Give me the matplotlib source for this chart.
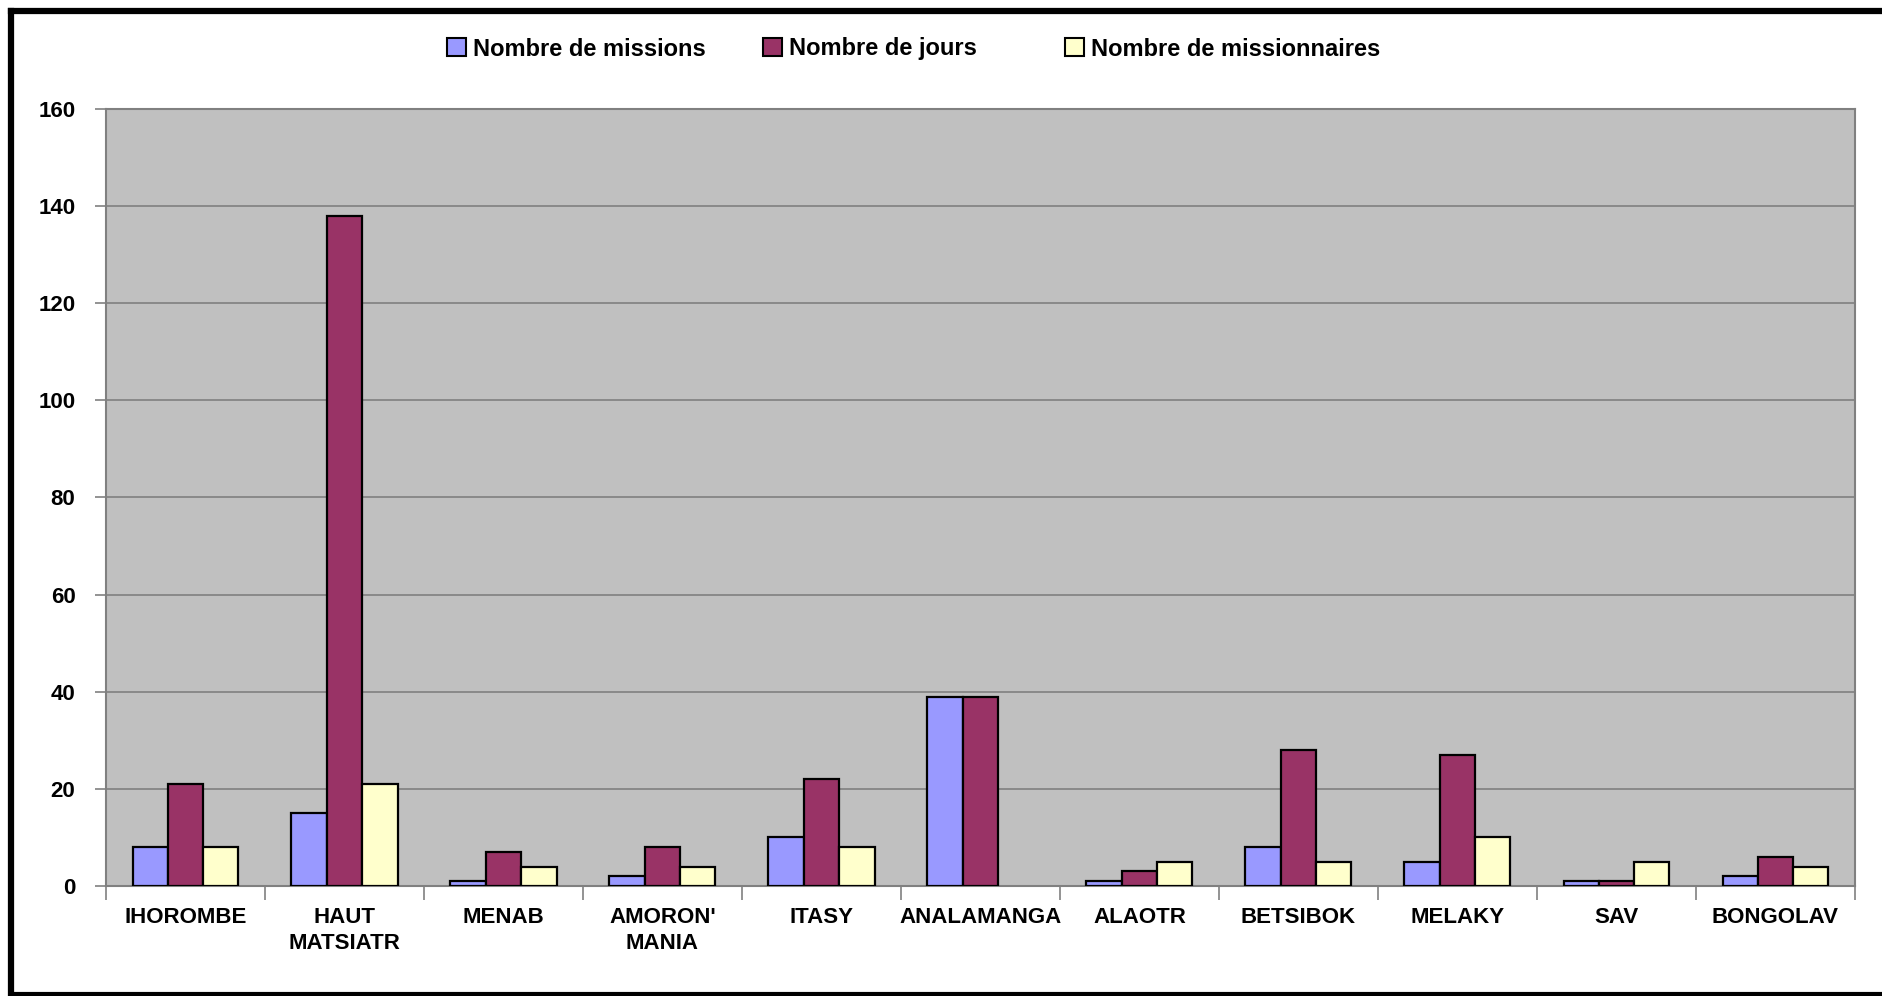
import matplotlib
matplotlib.use("Agg")
import matplotlib.pyplot as plt
import numpy as np
from matplotlib.patches import Patch
from matplotlib.lines import Line2D

plt.rcParams['font.family'] = ['Liberation Sans', 'DejaVu Sans']
plt.rcParams['font.weight'] = 'bold'

categories = ["IHOROMBE", "HAUT\nMATSIATR", "MENAB", "AMORON'\nMANIA", "ITASY",
              "ANALAMANGA", "ALAOTR", "BETSIBOK", "MELAKY", "SAV", "BONGOLAV"]
missions = [8, 15, 1, 2, 10, 39, 1, 8, 5, 1, 2]
jours = [21, 138, 7, 8, 22, 39, 3, 28, 27, 1, 6]
missionnaires = [8, 21, 4, 4, 8, 0, 5, 5, 10, 5, 4]
series_names = ["Nombre de missions", "Nombre de jours", "Nombre de missionnaires"]
colors = ["#9999FF", "#993366", "#FFFFCC"]
yticks = [0, 20, 40, 60, 80, 100, 120, 140, 160]

W, H = 1883, 996
fig = plt.figure(figsize=(W/100, H/100), dpi=100)
ax = fig.add_axes([106/W, 1-886/H, (1855-106)/W, (886-109)/H])
ax.set_facecolor("#C0C0C0")

n = len(categories)
x = np.arange(n)
w = 1/4.5
for i, (vals, c) in enumerate(zip([missions, jours, missionnaires], colors)):
    lws = [1.6 if v > 0 else 0 for v in vals]
    ax.bar(x + (i-1)*w, vals, width=w, color=c, edgecolor="black", linewidth=lws, zorder=3)

ax.set_xlim(-0.5, n-0.5)
ax.set_ylim(0, 160)
ax.set_yticks(yticks)
ax.set_yticklabels([str(t) for t in yticks], fontsize=16, fontweight='bold')
ax.yaxis.grid(True, color="#808080", linewidth=1.2, zorder=0)
ax.set_axisbelow(True)
for s in ax.spines.values():
    s.set_color("#808080")
    s.set_linewidth(1.5)
ax.tick_params(axis='y', direction='out', length=8, width=1.2, color="#808080", pad=14)

ax.set_xticks(np.arange(n+1) - 0.5)
ax.set_xticklabels([])
ax.tick_params(axis='x', direction='out', length=10, width=1.2, color="#808080")
ax.set_xticks(x, minor=True)
ax.set_xticklabels(categories, minor=True, fontsize=16, fontweight='bold', linespacing=1.35)
ax.tick_params(axis='x', which='minor', length=0, pad=15)

# legends
lx = [447/W, 763/W, 1065/W]
for name, c, px in zip(series_names, colors, lx):
    h = Patch(facecolor=c, edgecolor="black", linewidth=1.5)
    fig.legend(handles=[h], labels=[name], loc='center left', bbox_to_anchor=(px, 1-49/H),
               frameon=False, borderaxespad=0, borderpad=0, handlelength=0.8, handleheight=0.8,
               handletextpad=0.3, prop={'size': 17, 'weight': 'bold'})

# outer border (top, left, bottom)
bx = 11/W
ty = 1-11/H
by = 1-994/H
fig.add_artist(Line2D([bx, 1], [ty, ty], transform=fig.transFigure, color="black", linewidth=4.5,
                      solid_capstyle='projecting'))
fig.add_artist(Line2D([bx, bx], [by, ty], transform=fig.transFigure, color="black", linewidth=4.5,
                      solid_capstyle='projecting'))
fig.add_artist(Line2D([bx, 1], [by, by], transform=fig.transFigure, color="black", linewidth=3,
                      solid_capstyle='projecting'))

fig.savefig("out.png", dpi=100, facecolor="white")
